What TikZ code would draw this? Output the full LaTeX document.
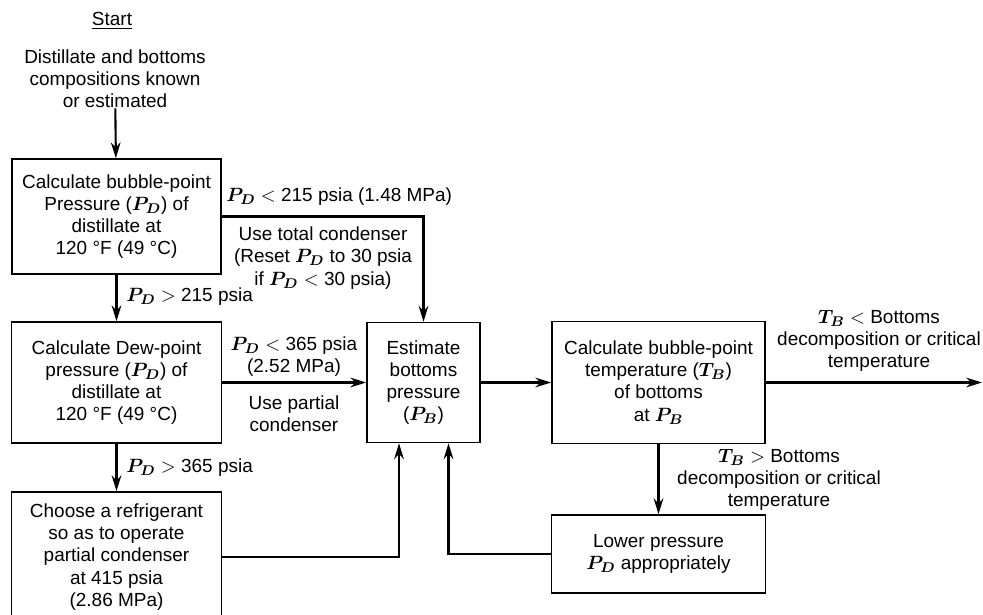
\documentclass[tikz,border=0pt]{standalone}
\usepackage{bm}
\usepackage{fontspec}
\setmainfont{Liberation Sans}
\usetikzlibrary{arrows.meta}
\usetikzlibrary{positioning}

\begin{document}
\begin{tikzpicture}[
  txt/.style={font=\fontsize{10.8}{12.6}\selectfont,align=center,inner sep=0pt},
  stepbox/.style={txt,draw,line width=0.9pt,rectangle},
  flow/.style={line width=1.2pt,-{Stealth[length=9pt,width=5.5pt]}}]
\useasboundingbox (0,0) rectangle (19.66,-12.3);

\node[txt] (startHd) at (2.24,-0.42) {\underline{Start}};
\node[txt] (startTxt) at (2.3,-1.58) {Distillate and bottoms\\compositions known\\or estimated};

\node[stepbox,minimum width=4.18cm,minimum height=2.3cm] (bubP) at (2.33,-4.33) {Calculate bubble-point\\Pressure ($\bm{P_D}$) of\\distillate at\\120~°F (49~°C)};
\node[stepbox,minimum width=4.2cm,minimum height=2.42cm] (dewP) at (2.33,-7.65) {Calculate Dew-point\\pressure ($\bm{P_D}$) of\\distillate at\\120~°F (49~°C)};
\node[stepbox,minimum width=4.2cm,minimum height=2.6cm] (refrig) at (2.33,-11.14) {Choose a refrigerant\\so as to operate\\partial condenser\\at 415 psia\\(2.86 MPa)};
\node[stepbox,minimum width=2.26cm,minimum height=2.4cm] (estPB) at (8.47,-7.65) {Estimate\\bottoms\\pressure\\($\bm{P_B}$)};
\node[stepbox,minimum width=4.26cm,minimum height=2.44cm] (bubT) at (13.17,-7.65) {Calculate bubble-point\\temperature ($\bm{T_B}$)\\of bottoms\\at $\bm{P_B}$};
\node[stepbox,minimum width=4.28cm,minimum height=1.56cm] (lowP) at (13.17,-11.08) {Lower pressure\\$\bm{P_D}$ appropriately};
\coordinate (bEnd) at (19.64,-7.65);

\node[txt,anchor=west] (lblA) at (4.52,-3.94) {$\bm{P_D} <$ 215 psia (1.48 MPa)};
\node[txt] (lblB) at (6.46,-5.16) {Use total condenser\\(Reset $\bm{P_D}$ to 30 psia\\if $\bm{P_D} <$ 30 psia)};
\node[txt,anchor=west] (lblC) at (2.52,-5.94) {$\bm{P_D}>$ 215 psia};
\node[txt] (lblD) at (5.88,-7.13) {$\bm{P_D} <$ 365 psia\\(2.52 MPa)};
\node[txt] (lblE) at (5.88,-8.27) {Use partial\\condenser};
\node[txt,anchor=west] (lblF) at (2.52,-9.36) {$\bm{P_D} >$ 365 psia};
\node[txt] (lblG) at (17.58,-6.82) {$\bm{T_B} <$ Bottoms\\decomposition or critical\\temperature};
\node[txt] (lblH) at (15.58,-9.6) {$\bm{T_B} >$ Bottoms\\decomposition or critical\\temperature};

\draw[flow] (startTxt) -- (bubP);
\draw[flow] (bubP) -- (dewP);
\draw[flow] (dewP) -- (refrig);
\draw[flow] (bubP.east) -| (estPB.north);
\draw[flow] (dewP) -- (estPB);
\draw[flow] (estPB) -- (bubT);
\draw[flow] (bubT) -- (bEnd);
\draw[flow] (bubT) -- (lowP);
\draw[flow] (refrig.east) -| ([xshift=-0.49cm]estPB.south);
\draw[flow] (lowP.west) -| ([xshift=0.5cm]estPB.south);

\end{tikzpicture}
\end{document}
